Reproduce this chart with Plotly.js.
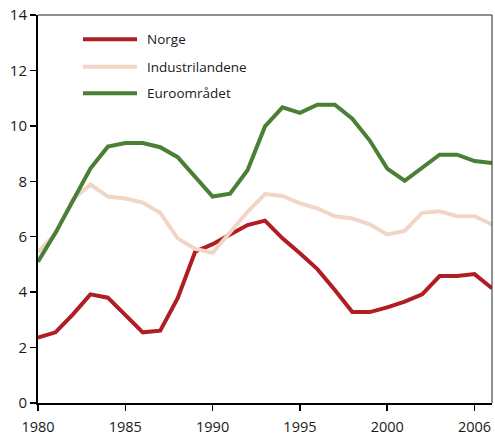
<!DOCTYPE html>
<html>
<head>
<meta charset="utf-8">
<script src="https://cdn.plot.ly/plotly-3.0.1.min.js"></script>
<style>html,body{margin:0;padding:0;background:#fff;}#chart{width:495px;height:438px;}</style>
</head>
<body>
<div id="chart"></div>
<script>
const years = [1980,1981,1982,1983,1984,1985,1986,1987,1988,1989,1990,1991,1992,1993,1994,1995,1996,1997,1998,1999,2000,2001,2002,2003,2004,2005,2006];
const norge = [2.36,2.55,3.2,3.92,3.8,3.18,2.55,2.61,3.78,5.46,5.73,6.08,6.42,6.58,5.94,5.4,4.83,4.08,3.28,3.28,3.45,3.66,3.92,4.58,4.58,4.65,4.14];
const industrilandene = [5.45,6.1,7.35,7.88,7.45,7.38,7.23,6.86,5.94,5.56,5.42,6.15,6.9,7.54,7.47,7.2,7.02,6.74,6.66,6.45,6.08,6.21,6.86,6.92,6.74,6.74,6.44];
const euroomradet = [5.1,6.14,7.3,8.46,9.25,9.38,9.38,9.23,8.87,8.15,7.45,7.55,8.4,9.98,10.67,10.47,10.76,10.76,10.26,9.47,8.46,8.02,8.48,8.96,8.96,8.73,8.66];
const seriesNames = ['Norge','Industrilandene','Euroområdet'];
const seriesColors = ['#b01e24','#f1d5c7','#4a7f35'];
const xTickVals = [1980,1985,1990,1995,2000,2005];
const xTickText = ['1980','1985','1990','1995','2000','2006'];
const yTickVals = [0,2,4,6,8,10,12,14];

const seriesData = [norge, industrilandene, euroomradet];
const traces = seriesData.map((vals, i) => ({
  x: years, y: vals, type: 'scatter', mode: 'lines',
  name: seriesNames[i], showlegend: false,
  line: {color: seriesColors[i], width: 4, shape: 'linear'}
}));

const fam = '"Open Sans", "DejaVu Sans", sans-serif';
// manual legend (keys + labels) in paper coordinates
const legendY = [0.9374, 0.8668, 0.7982];
const legendShapes = seriesNames.map((n, i) => ({
  type: 'line', xref: 'paper', yref: 'paper', x0: 0.0991, x1: 0.2181, y0: legendY[i], y1: legendY[i],
  line: {color: seriesColors[i], width: 4}
}));
const legendAnn = seriesNames.map((n, i) => ({
  xref: 'paper', yref: 'paper', x: 0.2357, y: legendY[i], xanchor: 'left', yanchor: 'middle',
  text: n, showarrow: false, font: {family: fam, size: 13.5, color: '#1a1a1a'}
}));

const layout = {
  width: 495, height: 438,
  margin: {l: 38, r: 3, t: 15, b: 35},
  paper_bgcolor: '#fff', plot_bgcolor: '#fff',
  font: {family: fam, size: 14, color: '#1a1a1a'},
  showlegend: false,
  xaxis: {
    range: [1980, 2006], tickmode: 'array', tickvals: xTickVals, ticktext: xTickText,
    showgrid: false, zeroline: false, showline: true, linecolor: '#000', linewidth: 2,
    ticks: 'outside', ticklen: 6, tickcolor: '#000', tickwidth: 1.5, ticklabelstandoff: 4,
    tickfont: {family: fam, size: 14.5, color: '#1a1a1a'}
  },
  yaxis: {
    range: [0, 14], tickmode: 'array', tickvals: yTickVals,
    showgrid: false, zeroline: false, showline: true, linecolor: '#000', linewidth: 2,
    ticks: 'outside', ticklen: 6, tickcolor: '#000', tickwidth: 1.5,
    tickfont: {family: fam, size: 15, color: '#1a1a1a'}
  },
  shapes: [
    {type: 'line', xref: 'paper', yref: 'paper', x0: 0, x1: 1, y0: 1, y1: 1, line: {color: '#222', width: 1}},
    {type: 'line', xref: 'paper', yref: 'paper', x0: 1, x1: 1, y0: 0, y1: 1, line: {color: '#222', width: 1}}
  ].concat(legendShapes),
  annotations: legendAnn
};
Plotly.newPlot('chart', traces, layout, {displayModeBar: false, staticPlot: true});
</script>
</body>
</html>
